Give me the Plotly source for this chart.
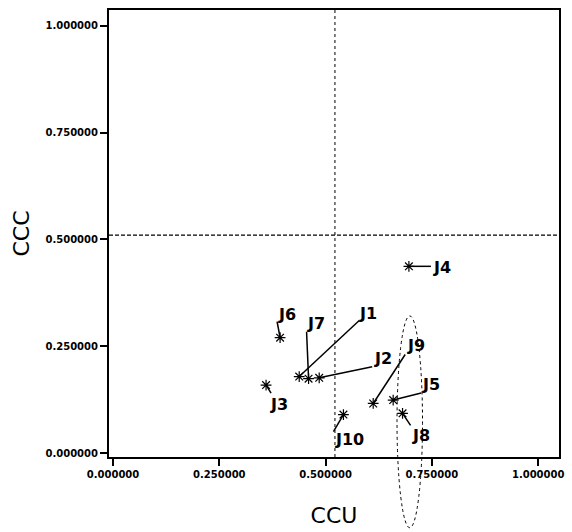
import plotly.graph_objects as go

# Supplier positions on the CCU / CCC plane
names = ["J1", "J2", "J3", "J4", "J5", "J6", "J7", "J8", "J9", "J10"]
ccu = [0.438, 0.485, 0.360, 0.696, 0.659, 0.393, 0.460, 0.681, 0.612, 0.542]
ccc = [0.179, 0.176, 0.159, 0.437, 0.124, 0.270, 0.174, 0.093, 0.116, 0.090]

# Dividing reference lines
ccu_cut = 0.522
ccc_cut = 0.510

# Highlighted group (ellipse centre and half-axes, data units)
group_center = (0.698, 0.073)
group_half = (0.030, 0.248)

tick_vals = [0.0, 0.25, 0.5, 0.75, 1.0]

# Label placement: leader-line end and text centre, pixel offsets from each point (y up)
leader = {
    "J1": (60, 56), "J2": (53, 11), "J3": (5, -8), "J4": (22, 0), "J5": (28, 7),
    "J6": (-3, 16), "J7": (-2, 47), "J8": (8, -12), "J9": (32, 49), "J10": (-10, -17),
}
label_shift = {
    "J1": (69, 63), "J2": (64, 19), "J3": (13, -19), "J4": (33, -1), "J5": (38, 16),
    "J6": (7, 23), "J7": (7, 55), "J8": (18, -22), "J9": (43, 58), "J10": (6, -25),
}

x_range = [-0.0094, 1.049]
y_range = [-0.0093, 1.037]

fig = go.Figure()

fig.add_trace(go.Scatter(
    x=ccu, y=ccc, mode="markers",
    marker=dict(symbol="asterisk-open", size=9, color="black",
                line=dict(color="black", width=1.2)),
    hoverinfo="text", text=names, showlegend=False, cliponaxis=False,
))

shapes = []
annotations = []
for n, xv, yv in zip(names, ccu, ccc):
    dx, dy = leader[n]
    shapes.append(dict(
        type="line", xref="x", yref="y",
        xsizemode="pixel", ysizemode="pixel",
        xanchor=xv, yanchor=yv, x0=0, y0=0, x1=dx, y1=dy,
        line=dict(color="black", width=1.5),
    ))
    sx, sy = label_shift[n]
    annotations.append(dict(
        x=xv, y=yv, xref="x", yref="y", text=n, showarrow=False,
        xshift=sx, yshift=sy,
        font=dict(family="DejaVu Sans", size=16, color="black", weight="bold"),
    ))

# Reference lines
shapes.append(dict(type="line", xref="x", yref="paper", x0=ccu_cut, x1=ccu_cut, y0=0, y1=1,
                   line=dict(color="black", width=1, dash="dot")))
shapes.append(dict(type="line", xref="paper", yref="y", x0=0, x1=1, y0=ccc_cut, y1=ccc_cut,
                   line=dict(color="black", width=1.2, dash="4px,2px")))

# Ellipse around the group, in paper units so it may run past the axis
def px(v):
    return (v - x_range[0]) / (x_range[1] - x_range[0])

def py(v):
    return (v - y_range[0]) / (y_range[1] - y_range[0])

cx, cy = group_center
hx, hy = group_half
shapes.append(dict(type="circle", xref="paper", yref="paper",
                   x0=px(cx - hx), x1=px(cx + hx), y0=py(cy - hy), y1=py(cy + hy),
                   line=dict(color="black", width=1, dash="dot")))

axis_common = dict(
    tickvals=tick_vals, tickformat=".6f", ticks="outside", ticklen=7, tickwidth=2,
    tickcolor="black", showgrid=False, zeroline=False, showline=True, linecolor="black",
    linewidth=2, mirror=True,
    tickfont=dict(family="DejaVu Sans", size=10, color="black", weight="bold"),
)

fig.update_layout(
    width=572, height=532,
    margin=dict(l=109, r=11, t=8, b=75),
    paper_bgcolor="white", plot_bgcolor="white",
    shapes=shapes, annotations=annotations,
    xaxis=dict(range=x_range, title=dict(text="CCU", standoff=29,
               font=dict(family="DejaVu Sans", size=22, color="black")), **axis_common),
    yaxis=dict(range=y_range, title=dict(text="CCC", standoff=10,
               font=dict(family="DejaVu Sans", size=22, color="black")), **axis_common),
)

fig.write_html("out.html")
